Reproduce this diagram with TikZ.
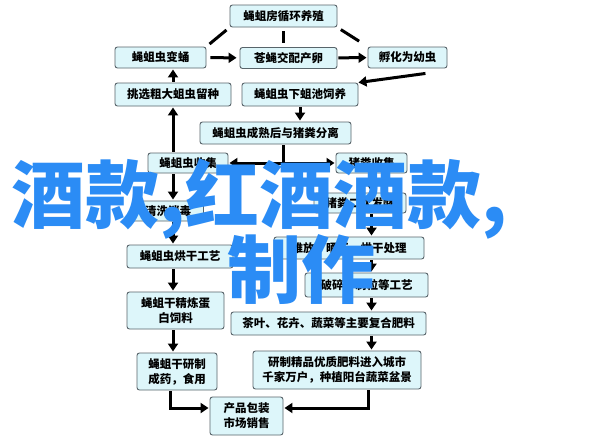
\documentclass[tikz,border=0pt]{standalone}
\usepackage{fontspec}
\newfontfamily\cjk{Noto Sans CJK SC}
\usetikzlibrary{arrows.meta}
\definecolor{boxfill}{RGB}{221,246,250}
\definecolor{boxline}{RGB}{88,100,106}
\definecolor{markblue}{RGB}{43,140,245}

\begin{document}
\begin{tikzpicture}[x=1pt, y=-1pt,
		box/.style={draw=boxline, fill=boxfill, line width=0.9pt, rounded corners=2.5pt,
			inner sep=1pt, align=center, font=\cjk\bfseries\fontsize{11.5}{15}\selectfont},
		link/.style={line width=3pt, shorten <=1pt, shorten >=1pt},
		flow/.style={link, -{Triangle[length=8pt, width=10pt]}},
		bigtext/.style={inner sep=0pt, text=markblue, font=\cjk\bfseries\fontsize{74}{80}\selectfont}]
			%%%%% START %%%%%
			
			\fill[white] (0, 0) rectangle (604, 445);
			
			\node[box, minimum width=107pt, minimum height=22pt] (farm) at (283.5, 16) {蝇蛆房循环养殖};
			\node[box, minimum width=91pt, minimum height=21pt] (pupa) at (160.5, 57.5) {蝇蛆虫变蛹};
			\node[box, minimum width=97pt, minimum height=21pt] (mate) at (288.5, 58) {苍蝇交配产卵};
			\node[box, minimum width=79pt, minimum height=21pt] (hatch) at (407.5, 57.5) {孵化为幼虫};
			\node[box, minimum width=116pt, minimum height=23pt] (pick) at (173, 94.5) {挑选粗大蛆虫留种};
			\node[box, minimum width=116pt, minimum height=23pt] (pond) at (300, 94.5) {蝇蛆虫下蛆池饲养};
			\node[box, minimum width=151pt, minimum height=22pt] (apart) at (275.5, 133) {蝇蛆虫成熟后与猪粪分离};
			
			\node[box, minimum width=80pt, minimum height=20pt] (gather) at (188, 163) {蝇蛆虫收集};
			\node[box, minimum width=71pt, minimum height=20pt] (dung) at (371.5, 163) {猪粪收集};
			\node[box, minimum width=71pt, minimum height=20pt] (wash) at (168, 211) {清洗消毒};
			\node[box, minimum width=92pt, minimum height=20pt] (ferment) at (360, 203) {猪粪二次发酵};
			\node[box, minimum width=150pt, minimum height=22pt] (heap) at (349, 248) {堆放、晒干、烘干处理};
			\node[box, minimum width=106pt, minimum height=23pt] (dry) at (180, 256.5) {蝇蛆虫烘干工艺};
			\node[box, minimum width=123pt, minimum height=24pt] (crush) at (366.5, 285) {破碎、制粒等工艺};
			
			\node[box, minimum width=97pt, minimum height=37pt] (protein) at (175.5, 310.5) {蝇蛆干精炼蛋\\白饲料};
			\node[box, minimum width=195pt, minimum height=23pt] (manure) at (328.5, 323.5) {茶叶、花卉、蔬菜等主要复合肥料};
			\node[box, minimum width=80pt, minimum height=37pt] (drug) at (177, 371.5) {蝇蛆干研制\\成药，食用};
			\node[box, minimum width=168pt, minimum height=38pt] (city) at (337, 370) {研制精品优质肥料进入城市\\千家万户，种植阳台蔬菜盆景};
			\node[box, minimum width=73pt, minimum height=38pt] (sale) at (246.5, 416) {产品包装\\市场销售};
			
			% top loop
			\draw[link, shorten <=4pt, shorten >=4pt] (farm.south west) -- (pupa.north east);
			\draw[link, shorten <=4pt, shorten >=4pt] (farm.south) -- (farm.south |- mate.north);
			\draw[link, shorten <=4pt, shorten >=10pt] (farm.south east) -- (hatch.north west);
			\draw[flow, shorten <=4pt, shorten >=3pt] (pupa) -- (mate);
			\draw[flow, shorten <=1pt, shorten >=1pt] (mate) -- (hatch);
			\draw[flow, shorten <=0pt, shorten >=0pt] ([xshift=-22pt, yshift=-5pt]hatch.south east) -- (pond.north east);
			\draw[flow] (pick.north) -- (pick.north |- pupa.south);
			\draw[flow] (pond.south) -- (pond.south |- apart.north);
			
			% split
			\coordinate (split) at (283, 163);
			\draw[link, shorten >=0pt] (apart.south -| split) -- (split);
			\draw[flow, shorten <=0pt] (split) -- (gather.east);
			\draw[flow, shorten <=0pt] (split) -- (dung.west);
			
			% left column
			\draw[flow] (pick.south |- gather.north) -- (pick.south);
			\draw[flow] (pick.south |- gather.south) -- (pick.south |- wash.north);
			\draw[flow] (pick.south |- wash.south) -- (pick.south |- dry.north);
			\draw[flow] (pick.south |- dry.south) -- (pick.south |- protein.north);
			\draw[flow] (pick.south |- protein.south) -- (pick.south |- drug.north);
			\draw[flow] ([xshift=-7pt]drug.south) |- ([yshift=8pt]sale.west);
			
			% right column
			\draw[flow] (dung.south) -- (dung.south |- ferment.north);
			\draw[flow] (dung.south |- ferment.south) -- (dung.south |- heap.north);
			\draw[flow] (dung.south |- heap.south) -- (dung.south |- crush.north);
			\draw[flow] (dung.south |- crush.south) -- (dung.south |- manure.north);
			\draw[flow] (dung.south |- manure.south) -- (dung.south |- city.north);
			\draw[flow] ([xshift=31pt]city.south) |- ([yshift=8pt]sale.east);
			
			% overlay
			\node[bigtext, anchor=base west] (title) at (11, 222) {酒款,红酒酒款,};
			\node[bigtext, anchor=base] (made) at (301, 297) {制作};
			
			%%%%% END %%%%%
		\end{tikzpicture}
\end{document}
